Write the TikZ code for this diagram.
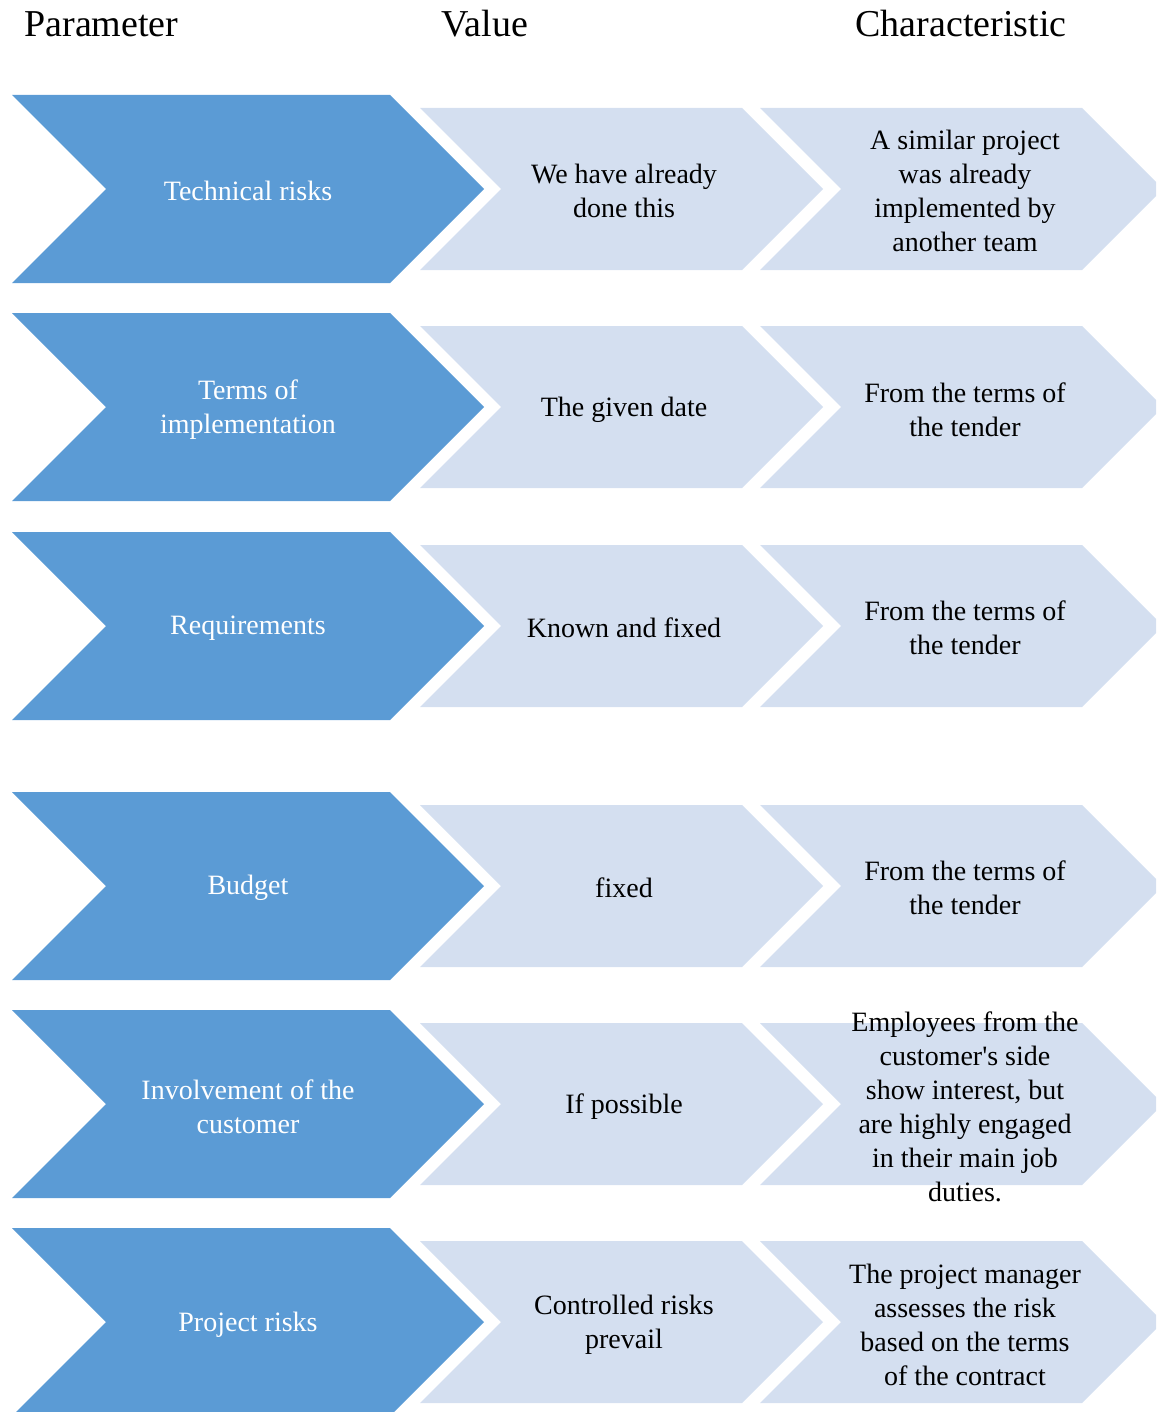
\documentclass[tikz,border=0pt]{standalone}
\usepackage{fontspec}
\setmainfont{Liberation Serif}
\definecolor{darkchev}{HTML}{5B9BD5}
\definecolor{lightchev}{HTML}{D4DFF0}

% chevron: colour, left x, tip x, centre y, half height
\newcommand\chevshape[5]{%
  \fill[#1] (#2,#4-#5) -- (#3-#5,#4-#5) -- (#3,#4) -- (#3-#5,#4+#5)
    -- (#2,#4+#5) -- (#2+#5,#4) -- cycle;}

% the three chevrons of one row, centred at y = #1
\newcommand\chevrow[1]{%
  \chevshape{darkchev}{12}{484}{#1}{94}
  \chevshape{lightchev}{420}{823}{#1}{81}
  \chevshape{lightchev}{760}{1163}{#1}{81}
}

\begin{document}
\begin{tikzpicture}[x=0.5pt,y=-0.5pt,
  hdr/.style={anchor=base west, inner sep=0pt, font=\fontsize{19}{22}\selectfont},
  lbl/.style={align=center, inner sep=0pt, yshift=-1pt, font=\fontsize{14}{17}\selectfont},
  keylbl/.style={lbl, text=white},
  vallbl/.style={lbl, text=black}]
\useasboundingbox (0,0) rectangle (1156,1412);
\clip (0,0) rectangle (1156,1412);

% column headings
\node[hdr] (hpar) at (24,37) {Parameter};
\node[hdr] (hval) at (441,37) {Value};
\node[hdr] (hchar) at (855,37) {Characteristic};

% chevron rows
\chevrow{189}
\chevrow{407}
\chevrow{626}
\chevrow{886}
\chevrow{1104}
\chevrow{1322}

% row texts
\node[keylbl] (p1) at (248,189) {Technical risks};
\node[vallbl] (v1) at (624,189) {We have already\\done this};
\node[vallbl] (c1) at (965,189) {A similar project\\was already\\implemented by\\another team};

\node[keylbl] (p2) at (248,408) {Terms of\\implementation};
\node[vallbl] (v2) at (624,408) {The given date};
\node[vallbl] (c2) at (965,408) {From the terms of\\the tender};

\node[keylbl] (p3) at (248,626) {Requirements};
\node[vallbl] (v3) at (624,626) {Known and fixed};
\node[vallbl] (c3) at (965,626) {From the terms of\\the tender};

\node[keylbl] (p4) at (248,886) {Budget};
\node[vallbl] (v4) at (624,886) {fixed};
\node[vallbl] (c4) at (965,886) {From the terms of\\the tender};

\node[keylbl] (p5) at (248,1105) {Involvement of the\\customer};
\node[vallbl] (v5) at (624,1105) {If possible};
\node[vallbl] (c5) at (965,1105) {Employees from the\\customer\textquotesingle s side\\show interest, but\\are highly engaged\\in their main job\\duties.};

\node[keylbl] (p6) at (248,1323) {Project risks};
\node[vallbl] (v6) at (624,1323) {Controlled risks\\prevail};
\node[vallbl] (c6) at (965,1323) {The project manager\\assesses the risk\\based on the terms\\of the contract};
\end{tikzpicture}
\end{document}
